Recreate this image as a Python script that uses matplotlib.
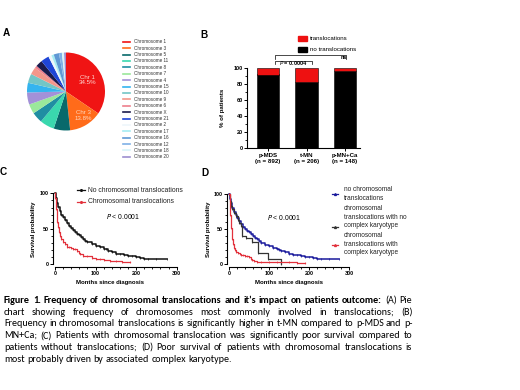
import matplotlib
matplotlib.use('Agg')
import matplotlib.pyplot as plt
from matplotlib.lines import Line2D
from matplotlib.patches import Rectangle
from matplotlib.ticker import MultipleLocator
from matplotlib import font_manager
import numpy as np

# ---------------- data ----------------
chrom_labels = ['Chromosome 1', 'Chromosome 3', 'Chromosome 5', 'Chromosome 11', 'Chromosome 8',
                'Chromosome 7', 'Chromosome 4', 'Chromosome 15', 'Chromosome 10', 'Chromosome 9',
                'Chromosome 6', 'Chromosome X', 'Chromosome 21', 'Chromosome 2', 'Chromosome 17',
                'Chromosome 16', 'Chromosome 12', 'Chromosome 18', 'Chromosome 20']
chrom_pct = [34.5, 13.8, 6.8, 6.0, 4.5, 4.0, 5.0, 4.0, 3.8, 3.0, 1.0, 2.8, 3.4, 1.3, 1.0, 2.2, 1.2, 0.9, 0.8]
chrom_colors = ['#f01414', '#ff6b1a', '#08696b', '#3ad8ae', '#1f8ea2', '#9be89b', '#a391d8', '#34b4ef',
                '#73c6c6', '#f4978a', '#ee7f8c', '#1b1b4d', '#1f45d6', '#eef6fb', '#a5ecf2', '#5f98d4',
                '#7fb0e6', '#d8f4f8', '#9d8fd0']

groups = ['p-MDS', 't-MN', 'p-MN+Ca']
n_patients = [892, 206, 148]
pct_no_transloc = [91.5, 82.5, 96.0]
pct_transloc = [8.5, 17.5, 4.0]

# Kaplan-Meier (months, survival %)
t_no = [0, 2, 5, 8, 12, 16, 20, 25, 30, 35, 40, 45, 50, 55, 60, 65, 70, 75, 80, 90, 100, 110, 120,
        125, 130, 140, 150, 160, 170, 180, 190, 200, 210, 220, 230, 250, 275]
s_no = [100, 94, 87, 81, 75, 70, 66, 62, 58, 54, 51, 48, 46, 43, 41, 38, 36, 33, 31, 28, 26, 24, 22,
        21, 19, 17, 15, 14, 13, 12, 11, 10, 9, 8, 7, 7, 7]
t_tr = [0, 1, 2, 3, 4, 6, 8, 10, 13, 16, 20, 25, 30, 35, 40, 45, 50, 55, 58, 62, 70, 80, 90, 100,
        110, 120, 135, 150, 165, 185]
s_tr = [100, 93, 86, 78, 70, 60, 52, 46, 40, 35, 31, 28, 25, 24, 23, 22, 21, 19, 16, 14, 12, 11, 9, 8,
        7, 6, 5, 4, 3, 3]
t_ck = [0, 1, 2, 3, 4, 5, 6, 8, 10, 12, 15, 18, 22, 26, 30, 35, 40, 45, 50, 55, 58, 62, 70, 80, 100,
        120, 150, 170, 190]
s_ck = [100, 90, 80, 70, 60, 52, 45, 36, 29, 24, 20, 17, 16, 15, 14, 13, 12, 12, 11, 8, 6, 5, 4, 4, 4,
        3, 3, 2, 2]
t_nck = [0, 2, 5, 8, 12, 16, 21, 25, 29, 33, 42, 57, 72, 98, 130]
s_nck = [100, 90, 84, 79, 74, 69, 64, 59, 55, 40, 37, 32, 16, 8, 0]

caption_bold = "Figure 1. Frequency of chromosomal translocations and it\u2019s impact on patients outcome:"
caption_lines = [
    "Figure 1. Frequency of chromosomal translocations and it\u2019s impact on patients outcome: (A) Pie",
    "chart showing frequency of chromosomes most commonly involved in translocations; (B)",
    "Frequency in chromosomal translocations is significantly higher in t-MN compared to p-MDS and p-",
    "MN+Ca; (C) Patients with chromosomal translocation was significantly poor survival compared to",
    "patients without translocations; (D) Poor survival of patients with chromosomal translocations is",
    "most probably driven by associated complex karyotype.",
]

# ---------------- setup ----------------
W, H = 520, 390
fig = plt.figure(figsize=(5.2, 3.9), dpi=100)
fig.patch.set_facecolor('white')

ttf = font_manager.fontManager.ttflist
available = {f.name for f in ttf}
def pick(*names):
    for n in names:
        if n in available:
            return n
    return 'DejaVu Sans'
def has_bold(name):
    return any(f.name == name and (f.weight in ('bold', 700) or str(f.weight) == '700') for f in ttf)
SANS = pick('Liberation Sans', 'Arial', 'DejaVu Sans')
CAP = pick('Carlito', 'Calibri', 'Lato', 'Liberation Sans')
CAPB = CAP if has_bold(CAP) else pick('Lato', 'Liberation Sans')
plt.rcParams['font.family'] = SANS

def rect(x0, y0, x1, y1):
    return [x0 / W, 1 - y1 / H, (x1 - x0) / W, (y1 - y0) / H]
def fx(x):
    return x / W
def fy(y):
    return 1 - y / H

# panel letters
for lab, x, y in [('A', 3, 33.5), ('B', 200.5, 34.5), ('C', 0, 172), ('D', 201.5, 172.5)]:
    fig.text(fx(x), fy(y), lab, fontsize=7.2, fontweight='bold', ha='left', va='center')

# ---------------- A: pie ----------------
axA = fig.add_axes(rect(27, 52.5, 105, 130.5))
wedges, _ = axA.pie(chrom_pct, colors=chrom_colors, startangle=90, counterclock=False,
                    radius=1, wedgeprops=dict(linewidth=0))
axA.set_xlim(-1, 1); axA.set_ylim(-1, 1); axA.axis('off')
for w, lab, v, rr, dx, col in [(wedges[0], 'Chr 1', chrom_pct[0], 0.62, 0.0, '#ffd6d0'),
                                (wedges[1], 'Chr 3', chrom_pct[1], 0.72, 0.08, '#ffd9c0')]:
    th = np.deg2rad((w.theta1 + w.theta2) / 2)
    axA.text(rr * np.cos(th) + dx, rr * np.sin(th), f'{lab}\n{v}%',
             ha='center', va='center', fontsize=4.4, color=col, linespacing=1.15)

for i, (lab, col) in enumerate(zip(chrom_labels, chrom_colors)):
    y = 41.7 + i * 6.4
    fig.add_artist(Line2D([fx(122.5), fx(130)], [fy(y), fy(y)], color=col, lw=1.2))
    fig.text(fx(134), fy(y), lab, fontsize=3.3, va='center', ha='left', color='#333333')

# ---------------- B: stacked bars ----------------
axB = fig.add_axes(rect(247.3, 67.7, 360, 147.7))
pos = np.arange(len(groups))
axB.bar(pos, pct_no_transloc, width=0.58, color='black', edgecolor='black', linewidth=0.4)
axB.bar(pos, pct_transloc, bottom=pct_no_transloc, width=0.58, color='#ee1111', edgecolor='black', linewidth=0.4)
axB.set_xlim(-0.54, 2.39)
axB.set_ylim(0, 100)
for s in ['top', 'right']:
    axB.spines[s].set_visible(False)
for s in ['left', 'bottom']:
    axB.spines[s].set_linewidth(0.8)
axB.set_yticks([0, 20, 40, 60, 80, 100])
axB.yaxis.set_minor_locator(MultipleLocator(10))
axB.set_xticks(pos)
axB.set_xticklabels([f'{g}\n(n = {n})' for g, n in zip(groups, n_patients)], linespacing=1.3)
axB.tick_params(axis='y', which='major', labelsize=4.0, length=2, width=0.7, pad=1)
axB.tick_params(axis='y', which='minor', length=1.2, width=0.6)
axB.tick_params(axis='x', labelsize=4.4, length=2, width=0.7, pad=1.5)
for t in axB.get_xticklabels() + axB.get_yticklabels():
    t.set_fontweight('bold')
axB.text(-0.22, 0.5, '% of patients', transform=axB.transAxes, rotation=90, ha='center', va='center',
         fontsize=4.4, fontweight='bold')
# brackets
br = dict(color='black', lw=0.5, clip_on=False)
axB.plot([0.18, 0.18, 2.02, 2.02], [111, 116, 116, 111], **br)
axB.plot([0.18, 0.18, 1.13, 1.13], [104.6, 108.8, 108.8, 104.6], **br)
axB.text(1.97, 112.5, 'ns', ha='center', va='center', fontsize=4.0, fontweight='bold')
axB.text(0.65, 106.2, r'$\it{P}$ = 0.0004', ha='center', va='center', fontsize=4.0, fontweight='bold')
# legend
fig.add_artist(Rectangle((fx(298.3), fy(40.7)), fx(306.7) - fx(298.3), fy(36) - fy(40.7), color='#ee1111'))
fig.add_artist(Rectangle((fx(298.3), fy(51.7)), fx(306.7) - fx(298.3), fy(47) - fy(51.7), color='black'))
fig.text(fx(310), fy(38.3), 'translocations', fontsize=4.4, va='center', ha='left')
fig.text(fx(310), fy(49.3), 'no translocations', fontsize=4.4, va='center', ha='left')

# ---------------- KM helpers ----------------
def km_style(ax):
    ax.set_xlim(0, 300); ax.set_ylim(0, 100)
    for s in ['top', 'right']:
        ax.spines[s].set_visible(False)
    for s in ['left', 'bottom']:
        ax.spines[s].set_linewidth(0.8)
        ax.spines[s].set_position(('outward', 1.7))
    ax.set_xticks([0, 100, 200, 300]); ax.set_yticks([0, 50, 100])
    ax.xaxis.set_minor_locator(MultipleLocator(20))
    ax.yaxis.set_minor_locator(MultipleLocator(10))
    ax.tick_params(which='major', labelsize=3.9, length=2, width=0.7, pad=1)
    ax.tick_params(which='minor', length=1.2, width=0.6)
    for t in ax.get_xticklabels() + ax.get_yticklabels():
        t.set_fontweight('bold')
    ax.patch.set_alpha(0)

def km(ax, t, s, color, lw=0.9):
    ax.plot(t, s, drawstyle='steps-post', color=color, lw=lw, clip_on=False,
            marker='|', markersize=1.8, markeredgewidth=0.5)

# ---------------- C ----------------
axC = fig.add_axes(rect(55, 193.3, 176.7, 264.3))
km_style(axC)
km(axC, t_no, s_no, '#111111', 1.1)
km(axC, t_tr, s_tr, '#e2313c')
axC.text(-0.178, 0.5, 'Survival probability', transform=axC.transAxes, rotation=90, ha='center',
         va='center', fontsize=4.3, fontweight='bold')
axC.text(0.45, -0.254, 'Months since diagnosis', transform=axC.transAxes, ha='center', va='center',
         fontsize=4.3, fontweight='bold')
for y, col, lab in [(190, '#111111', 'No chromosomal translocations'), (201.7, '#e2313c', 'Chromosomal translocations')]:
    fig.add_artist(Line2D([fx(76.7), fx(85)], [fy(y), fy(y)], color=col, lw=0.9))
    fig.add_artist(Line2D([fx(80.8)], [fy(y)], color=col, marker='o', markersize=1.2, lw=0))
    fig.text(fx(88.3), fy(y), lab, fontsize=4.9, va='center', ha='left', color='#222222')
fig.text(fx(123.3), fy(216.7), r'$\it{P}$ < 0.0001', fontsize=4.9, ha='center', va='center')

# ---------------- D ----------------
axD = fig.add_axes(rect(229.3, 194.3, 349, 264.3))
km_style(axD)
km(axD, t_no, s_no, '#1a1a9c', 1.1)
km(axD, t_nck, s_nck, '#333333')
km(axD, t_ck, s_ck, '#e2313c')
axD.text(-0.175, 0.5, 'Survival probability', transform=axD.transAxes, rotation=90, ha='center',
         va='center', fontsize=4.3, fontweight='bold')
axD.text(0.5, -0.254, 'Months since diagnosis', transform=axD.transAxes, ha='center', va='center',
         fontsize=4.3, fontweight='bold')
fig.text(fx(284), fy(217.3), r'$\it{P}$ < 0.0001', fontsize=4.9, ha='center', va='center')
for hy, ty, col, lab in [(194.3, 194.2, '#1a1a9c', 'no chromosomal\ntranslocations'),
                         (226.7, 217.3, '#333333', 'chromosomal\ntranslocations with no\ncomplex karyotype'),
                         (245, 244.0, '#e2313c', 'chromosomal\ntranslocations with\ncomplex karyotype')]:
    fig.add_artist(Line2D([fx(331.7), fx(338.3)], [fy(hy), fy(hy)], color=col, lw=0.9))
    fig.add_artist(Line2D([fx(335)], [fy(hy)], color=col, marker='^', markersize=1.4, lw=0))
    fig.text(fx(344), fy(ty), lab, fontsize=4.7, va='center', ha='left', linespacing=1.3, color='#222222')

# ---------------- caption (justified) ----------------
renderer = fig.canvas.get_renderer()
n_bold = len(caption_bold.split())
def measure(word, size, bold):
    t = fig.text(0, 0, word, fontsize=size, family=CAPB if bold else CAP,
                 fontweight='bold' if bold else 'normal')
    w = t.get_window_extent(renderer).width
    t.remove()
    return w

X0, X1 = 4.0, 412.3
size = 7.2

def words_of(i, sz, szb):
    words = caption_lines[i].split()
    bold = [i == 0 and k < n_bold for k in range(len(words))]
    ws = [measure(w, szb if b else sz, b) for w, b in zip(words, bold)]
    return words, bold, ws

# regular lines: shrink a little only if some line would not fit
nat = []
sp = measure('a a', size, False) - measure('aa', size, False)
for i in range(1, len(caption_lines) - 1):
    words, bold, ws = words_of(i, size, size)
    nat.append(sum(ws) + (len(words) - 1) * sp)
size = size * min(1.0, (X1 - X0) * 0.995 / max(nat))
sp = measure('a a', size, False) - measure('aa', size, False)

# bold part of the first line sized so that the first line is nearly full
words, bold, ws = words_of(0, size, size)
bw = sum(w for w, b in zip(ws, bold) if b)
rw = sum(w for w, b in zip(ws, bold) if not b)
target = (X1 - X0) * 0.985 - (len(words) - 1) * sp * 1.05 - rw
size_b = size * min(1.15, max(0.85, target / bw))

for i, line in enumerate(caption_lines):
    words, bold, ws = words_of(i, size, size_b)
    yb = 303 + i * 11.7
    if i < len(caption_lines) - 1 and len(words) > 1:
        gap = ((X1 - X0) - sum(ws)) / (len(words) - 1)
    else:
        gap = sp
    x = X0
    for w, b, ww in zip(words, bold, ws):
        fig.text(fx(x), fy(yb), w, fontsize=size_b if b else size, family=CAPB if b else CAP,
                 va='baseline', ha='left', fontweight='bold' if b else 'normal', color='black')
        x += ww + gap

fig.savefig('out.png', dpi=100, facecolor='white')
